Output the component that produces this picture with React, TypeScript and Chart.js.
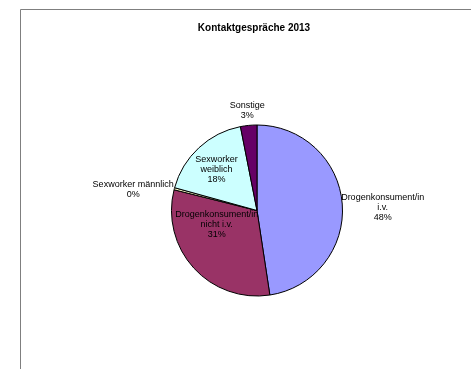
import React, { useEffect, useRef } from "react";
import { Chart, registerables } from "chart.js";

Chart.register(...registerables);

const title = "Kontaktgespräche 2013";
const categories: string[][] = [
  ["Drogenkonsument/in", "i.v."],
  ["Drogenkonsument/in", "nicht i.v."],
  ["Sexworker männlich"],
  ["Sexworker", "weiblich"],
  ["Sonstige"],
];
const values = [47.6, 31.3, 0.4, 17.6, 3.1];
const percentLabels = ["48%", "31%", "0%", "18%", "3%"];
const colors = ["#9999FF", "#993366", "#FFFFCC", "#CCFFFF", "#660066"];

// label placement: radius factor relative to slice radius, angle tweak in degrees
const labelRadius = [1.47, 0.5, 1.47, 0.67, 1.17];
const labelAngleShift = [3, 23, -5, -2, 0];

const framePlugin = {
  id: "frame",
  beforeDraw(chart: any) {
    const ctx = chart.ctx;
    ctx.save();
    ctx.fillStyle = "#ffffff";
    ctx.fillRect(0, 0, chart.width, chart.height);
    ctx.strokeStyle = "#7f7f7f";
    ctx.lineWidth = 1;
    ctx.beginPath();
    ctx.moveTo(20.5, chart.height);
    ctx.lineTo(20.5, 9.5);
    ctx.lineTo(chart.width, 9.5);
    ctx.stroke();
    ctx.font = "bold 10px 'Liberation Sans', Arial, sans-serif";
    ctx.fillStyle = "#000000";
    ctx.textAlign = "center";
    ctx.textBaseline = "middle";
    ctx.fillText(title, 254, 28);
    ctx.restore();
  },
};

const labelPlugin = {
  id: "sliceLabels",
  afterDatasetsDraw(chart: any) {
    const ctx = chart.ctx;
    const meta = chart.getDatasetMeta(0);
    ctx.save();
    ctx.font = "9px 'Liberation Sans', Arial, sans-serif";
    ctx.fillStyle = "#000000";
    ctx.textAlign = "center";
    ctx.textBaseline = "middle";
    meta.data.forEach((arc: any, i: number) => {
      const p = arc.getProps(["x", "y", "startAngle", "endAngle", "outerRadius"], true);
      const mid = (p.startAngle + p.endAngle) / 2 + (labelAngleShift[i] * Math.PI) / 180;
      const r = p.outerRadius * labelRadius[i];
      const cx = p.x + Math.cos(mid) * r;
      const cy = p.y + Math.sin(mid) * r;
      const lines = [...categories[i], percentLabels[i]];
      const lh = 10;
      const y0 = cy - ((lines.length - 1) * lh) / 2;
      lines.forEach((t, j) => ctx.fillText(t, cx, y0 + j * lh));
    });
    ctx.restore();
  },
};

export default function App() {
  const ref = useRef<HTMLCanvasElement>(null);
  useEffect(() => {
    document.body.style.margin = "0";
    const chart = new Chart(ref.current!, {
      type: "pie",
      data: {
        labels: categories.map((c) => c.join(" ")),
        datasets: [
          {
            data: values,
            backgroundColor: colors,
            borderColor: "#000000",
            borderWidth: 1,
          },
        ],
      },
      options: {
        animation: false,
        responsive: false,
        layout: { padding: { left: 171, right: 128, top: 124, bottom: 72 } },
        plugins: {
          legend: { display: false },
          tooltip: { enabled: false },
          title: { display: false },
        },
      },
      plugins: [framePlugin, labelPlugin],
    });
    return () => chart.destroy();
  }, []);
  return (
    <div style={{ position: "absolute", left: 0, top: 0, width: 471, height: 369 }}>
      <canvas ref={ref} width={471} height={369} style={{ width: 471, height: 369 }} />
    </div>
  );
}
